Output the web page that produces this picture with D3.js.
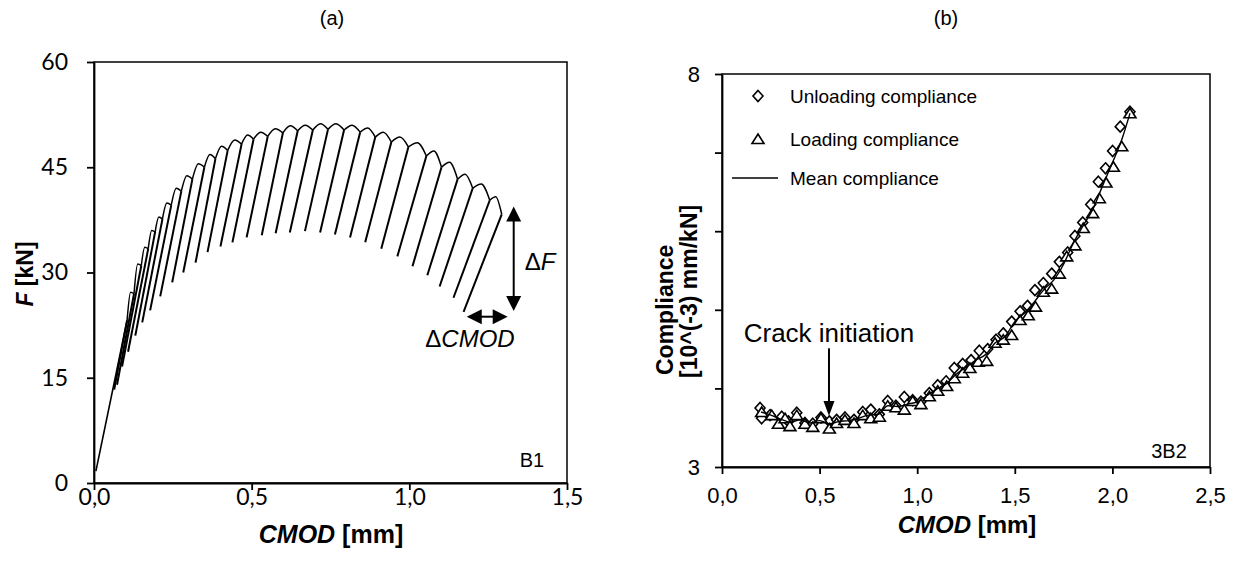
<!DOCTYPE html>
<html>
<head>
<meta charset="utf-8">
<script src="https://cdn.jsdelivr.net/npm/d3@7"></script>
<style>
  body { margin: 0; background: #fff; }
  svg { display: block; }
  text { fill: #000; }
</style>
</head>
<body>
<svg id="chart" width="1242" height="575"></svg>
<script>
// ---- panel (a): load / CMOD cycles, specimen B1 ----
const startCmod = 0.006, startF = 1.7;
// point where each unloading starts (on the envelope)
const topCmod = [0.105,0.127,0.150,0.172,0.194,0.217,0.245,0.277,0.312,0.350,0.385,0.424,0.468,0.506,0.551,
                 0.599,0.646,0.694,0.742,0.793,0.844,0.892,0.943,0.997,1.054,1.102,1.153,1.201,1.255,1.293];
const topF = [23.2,27.0,31.0,33.4,35.8,37.6,39.6,41.6,43.3,45.0,46.2,47.4,48.3,49.0,49.4,
              49.9,50.2,50.3,50.4,50.3,50.0,49.3,48.6,47.9,46.6,45.0,43.3,42.0,40.3,38.3];
// peak of the envelope between two unloadings
const archF = [27.2,31.2,33.6,36.0,37.9,39.9,42.0,43.8,45.5,46.8,48.0,48.9,49.6,50.0,50.5,
               50.9,51.0,51.2,51.2,51.0,50.6,50.0,49.3,48.5,47.3,45.7,44.0,42.6,40.8];
// lowest point of each unloading
const botCmod = [0.064,0.073,0.089,0.108,0.131,0.153,0.178,0.210,0.248,0.283,0.322,0.360,0.401,0.439,0.484,
                 0.532,0.576,0.621,0.669,0.717,0.764,0.812,0.860,0.911,0.962,1.010,1.057,1.096,1.140,1.172];
const botF = [13.3,14.0,16.6,18.7,21.0,22.9,24.6,26.6,28.6,30.0,31.4,32.9,33.7,34.3,35.0,
              35.3,35.6,35.7,35.9,35.7,35.4,35.0,34.3,33.4,32.3,30.9,29.6,28.0,26.4,24.4];
const xTicksA = [0, 0.5, 1.0, 1.5];
const yTicksA = [0, 15, 30, 45, 60];

// ---- panel (b): compliance, specimen 3B2 ----
const unloadCmod = [0.195,0.203,0.246,0.306,0.340,0.383,0.425,0.465,0.507,0.550,0.587,0.630,0.676,0.721,0.762,
                    0.806,0.849,0.891,0.934,0.977,1.019,1.062,1.105,1.148,1.190,1.233,1.276,1.318,1.361,1.404,
                    1.441,1.484,1.527,1.565,1.603,1.646,1.689,1.728,1.771,1.808,1.848,1.889,1.928,1.965,2.001,
                    2.040,2.090];
const unloadComp = [3.75,3.62,3.66,3.64,3.58,3.69,3.56,3.55,3.63,3.58,3.60,3.63,3.60,3.70,3.73,
                    3.67,3.84,3.78,3.89,3.85,3.83,3.94,4.04,4.09,4.26,4.31,4.36,4.48,4.50,4.62,
                    4.70,4.85,4.98,5.05,5.25,5.34,5.46,5.61,5.73,5.94,6.11,6.34,6.63,6.80,7.02,
                    7.33,7.52];
const loadCmod = [0.203,0.255,0.289,0.323,0.348,0.383,0.425,0.465,0.507,0.550,0.587,0.630,0.676,0.721,0.762,
                  0.806,0.849,0.891,0.934,0.977,1.019,1.062,1.105,1.151,1.190,1.233,1.270,1.313,1.356,1.399,
                  1.441,1.484,1.527,1.569,1.606,1.646,1.689,1.728,1.766,1.808,1.851,1.899,1.933,1.967,2.005,
                  2.048,2.090];
const loadComp = [3.70,3.66,3.55,3.62,3.52,3.66,3.55,3.51,3.62,3.49,3.56,3.60,3.56,3.66,3.62,
                  3.64,3.78,3.76,3.73,3.84,3.80,3.90,3.97,4.03,4.13,4.20,4.26,4.34,4.35,4.58,
                  4.62,4.68,4.87,4.93,5.04,5.23,5.27,5.46,5.68,5.82,6.04,6.23,6.42,6.62,6.82,
                  7.08,7.50];
const meanCmod = [0.20,0.25,0.30,0.35,0.40,0.45,0.50,0.55,0.60,0.65,0.70,0.75,0.80,0.85,0.90,0.95,1.00,
                  1.05,1.10,1.15,1.20,1.25,1.30,1.35,1.40,1.45,1.50,1.55,1.60,1.65,1.70,1.75,1.80,1.85,
                  1.90,1.95,2.00,2.05,2.09];
const meanComp = [3.70,3.66,3.61,3.57,3.60,3.56,3.59,3.55,3.58,3.59,3.62,3.66,3.67,3.78,3.77,3.80,3.83,
                  3.91,3.99,4.06,4.18,4.27,4.36,4.43,4.58,4.66,4.85,4.96,5.10,5.26,5.38,5.58,5.85,6.07,
                  6.28,6.58,6.87,7.18,7.50];
const xTicksB = [0, 0.5, 1.0, 1.5, 2.0, 2.5];
const yTicksB = [3, 4, 5, 6, 7, 8];
const yLabelsB = [3, 8];

const sans = "'Liberation Sans', Arial, sans-serif";
const comma = d3.format(".1f");
const fmtComma = v => comma(v).replace(".", ",");

const svg = d3.select("#chart");

function frame(g, x, y) {
    g.append("rect")
        .attr("x", x.range()[0]).attr("y", y.range()[1])
        .attr("width", x.range()[1] - x.range()[0])
        .attr("height", y.range()[0] - y.range()[1])
        .attr("fill", "none").attr("stroke", "#000").attr("stroke-width", 1.5);
}

// ================= panel (a) =================
const xA = d3.scaleLinear().domain([0, 1.5]).range([94, 567]);
const yA = d3.scaleLinear().domain([0, 60]).range([483, 62]);
const gA = svg.append("g");
frame(gA, xA, yA);

const axA = gA.append("g").attr("transform", `translate(0,${yA(0)})`)
    .call(d3.axisBottom(xA).tickValues(xTicksA).tickSizeInner(7).tickSizeOuter(0).tickFormat(fmtComma));
const ayA = gA.append("g").attr("transform", `translate(${xA(0)},0)`)
    .call(d3.axisLeft(yA).tickValues(yTicksA).tickSizeInner(7).tickSizeOuter(0));
[axA, ayA].forEach(a => {
    a.selectAll("path, line").attr("stroke", "#000").attr("stroke-width", 1.8);
    a.selectAll("text").attr("font-family", "Lato, 'Open Sans', sans-serif").attr("font-size", 23).attr("fill", "#000");
});
axA.selectAll("text").attr("dy", null).attr("y", 22);
ayA.selectAll("text").attr("x", -26);

// envelope arches + unloading lines
const line = d3.line().x(d => xA(d[0])).y(d => yA(d[1]));
const arch = d3.line().x(d => xA(d[0])).y(d => yA(d[1])).curve(d3.curveMonotoneX);

gA.append("path")
    .attr("d", line([[startCmod, startF], [topCmod[0], topF[0]]]))
    .attr("fill", "none").attr("stroke", "#000").attr("stroke-width", 1.6);

archF.forEach((f, i) => {
    const mid = (topCmod[i] + topCmod[i + 1]) / 2;
    gA.append("path")
        .attr("d", arch([[topCmod[i], topF[i]], [mid, f], [topCmod[i + 1], topF[i + 1]]]))
        .attr("fill", "none").attr("stroke", "#000").attr("stroke-width", 1.5);
});
topCmod.forEach((c, i) => {
    gA.append("path")
        .attr("d", line([[c, topF[i]], [botCmod[i], botF[i]]]))
        .attr("fill", "none").attr("stroke", "#000").attr("stroke-width", 2);
});

// delta F / delta CMOD arrows
const dF = { cmod: 1.331, f0: 24.5, f1: 39.4 };
const dC = { f: 23.7, c0: 1.182, c1: 1.312 };
function arrowHead(g, x, y, dir, len, half) {
    let pts;
    if (dir === "up") pts = [[x, y], [x - half, y + len], [x + half, y + len]];
    if (dir === "down") pts = [[x, y], [x - half, y - len], [x + half, y - len]];
    if (dir === "left") pts = [[x, y], [x + len, y - half], [x + len, y + half]];
    if (dir === "right") pts = [[x, y], [x - len, y - half], [x - len, y + half]];
    g.append("polygon").attr("points", pts.map(p => p.join(",")).join(" ")).attr("fill", "#000");
}
gA.append("line")
    .attr("x1", xA(dF.cmod)).attr("x2", xA(dF.cmod))
    .attr("y1", yA(dF.f1) + 8).attr("y2", yA(dF.f0) - 8)
    .attr("stroke", "#000").attr("stroke-width", 2);
arrowHead(gA, xA(dF.cmod), yA(dF.f1), "up", 15, 7.5);
arrowHead(gA, xA(dF.cmod), yA(dF.f0), "down", 15, 7.5);
gA.append("line")
    .attr("x1", xA(dC.c0) + 8).attr("x2", xA(dC.c1) - 8)
    .attr("y1", yA(dC.f)).attr("y2", yA(dC.f))
    .attr("stroke", "#000").attr("stroke-width", 2);
arrowHead(gA, xA(dC.c0), yA(dC.f), "left", 15, 7.5);
arrowHead(gA, xA(dC.c1), yA(dC.f), "right", 15, 7.5);

const tF = gA.append("text").attr("x", xA(dF.cmod) + 11).attr("y", 270)
    .attr("font-family", sans).attr("font-size", 24);
tF.append("tspan").text("\u0394");
tF.append("tspan").attr("font-style", "italic").text("F");
const tC = gA.append("text").attr("x", 470).attr("y", 347).attr("text-anchor", "middle")
    .attr("font-family", sans).attr("font-size", 24);
tC.append("tspan").text("\u0394");
tC.append("tspan").attr("font-style", "italic").text("CMOD");

gA.append("text").attr("x", 532).attr("y", 467).attr("text-anchor", "middle")
    .attr("font-family", sans).attr("font-size", 20).text("B1");

// axis titles (a)
const tx = gA.append("text").attr("x", 331).attr("y", 543).attr("text-anchor", "middle")
    .attr("font-family", sans).attr("font-size", 25).attr("font-weight", "bold");
tx.append("tspan").attr("font-style", "italic").text("CMOD");
tx.append("tspan").text(" [mm]");
const ty = gA.append("text").attr("transform", "translate(33,274) rotate(-90)").attr("text-anchor", "middle")
    .attr("font-family", sans).attr("font-size", 23).attr("font-weight", "bold");
ty.append("tspan").attr("font-style", "italic").text("F");
ty.append("tspan").text(" [kN]");

svg.append("text").attr("x", 332).attr("y", 25).attr("text-anchor", "middle")
    .attr("font-family", sans).attr("font-size", 20).text("(a)");

// ================= panel (b) =================
const xB = d3.scaleLinear().domain([0, 2.5]).range([722, 1210]);
const yB = d3.scaleLinear().domain([3, 8]).range([467, 74]);
const gB = svg.append("g");
frame(gB, xB, yB);

const axB = gB.append("g").attr("transform", `translate(0,${yB(3)})`)
    .call(d3.axisBottom(xB).tickValues(xTicksB).tickSizeInner(7).tickSizeOuter(0).tickFormat(fmtComma));
const ayB = gB.append("g").attr("transform", `translate(${xB(0)},0)`)
    .call(d3.axisLeft(yB).tickValues(yTicksB).tickSizeInner(7).tickSizeOuter(0)
        .tickFormat(v => yLabelsB.includes(v) ? v : ""));
[axB, ayB].forEach(a => {
    a.selectAll("path, line").attr("stroke", "#000").attr("stroke-width", 1.8);
    a.selectAll("text").attr("font-family", sans).attr("font-size", 22).attr("fill", "#000");
});
axB.selectAll("text").attr("dy", null).attr("y", 36);
ayB.selectAll("text").attr("x", -22);

const diamond = (x, y) => `M${x},${y - 5.5}L${x + 5},${y}L${x},${y + 5.5}L${x - 5},${y}Z`;
const triangle = (x, y) => `M${x},${y - 5}L${x + 6},${y + 4.5}L${x - 6},${y + 4.5}Z`;

gB.append("g").selectAll("path").data(unloadCmod).join("path")
    .attr("d", (c, i) => diamond(xB(c), yB(unloadComp[i])))
    .attr("fill", "#fff").attr("stroke", "#000").attr("stroke-width", 1.6);
gB.append("g").selectAll("path").data(loadCmod).join("path")
    .attr("d", (c, i) => triangle(xB(c), yB(loadComp[i])))
    .attr("fill", "#fff").attr("stroke", "#000").attr("stroke-width", 1.6);
gB.append("path")
    .attr("d", d3.line().x(d => xB(d[0])).y(d => yB(d[1])).curve(d3.curveMonotoneX)(meanCmod.map((c, i) => [c, meanComp[i]])))
    .attr("fill", "none").attr("stroke", "#000").attr("stroke-width", 1.4);

// legend
const legend = gB.append("g").attr("font-family", sans).attr("font-size", 19);
legend.append("path").attr("d", diamond(758, 96)).attr("fill", "#fff").attr("stroke", "#000").attr("stroke-width", 1.6);
legend.append("text").attr("x", 790).attr("y", 103).text("Unloading compliance");
legend.append("path").attr("d", triangle(758, 139)).attr("fill", "#fff").attr("stroke", "#000").attr("stroke-width", 1.6);
legend.append("text").attr("x", 790).attr("y", 146).text("Loading compliance");
legend.append("line").attr("x1", 732).attr("x2", 778).attr("y1", 178).attr("y2", 178)
    .attr("stroke", "#000").attr("stroke-width", 1.4);
legend.append("text").attr("x", 790).attr("y", 185).text("Mean compliance");

// crack initiation
const crack = { cmod: 0.548, top: 4.51, tip: 3.65 };
gB.append("line").attr("x1", xB(crack.cmod)).attr("x2", xB(crack.cmod))
    .attr("y1", yB(crack.top)).attr("y2", yB(crack.tip) - 10)
    .attr("stroke", "#000").attr("stroke-width", 2);
gB.append("polygon")
    .attr("points", [[xB(crack.cmod), yB(crack.tip)], [xB(crack.cmod) - 5.5, yB(crack.tip) - 15], [xB(crack.cmod) + 5.5, yB(crack.tip) - 15]]
        .map(p => p.join(",")).join(" "))
    .attr("fill", "#000");
gB.append("text").attr("x", xB(crack.cmod)).attr("y", 342).attr("text-anchor", "middle")
    .attr("font-family", sans).attr("font-size", 26).text("Crack initiation");

gB.append("text").attr("x", 1169).attr("y", 458).attr("text-anchor", "middle")
    .attr("font-family", sans).attr("font-size", 20).text("3B2");

// axis titles (b)
const tx2 = gB.append("text").attr("x", 967).attr("y", 533).attr("text-anchor", "middle")
    .attr("font-family", sans).attr("font-size", 24).attr("font-weight", "bold");
tx2.append("tspan").attr("font-style", "italic").text("CMOD");
tx2.append("tspan").text(" [mm]");
gB.append("text").attr("transform", "translate(673,375) rotate(-90)")
    .attr("font-family", sans).attr("font-size", 23).attr("font-weight", "bold").text("Compliance");
gB.append("text").attr("transform", "translate(697,378) rotate(-90)")
    .attr("font-family", sans).attr("font-size", 23).attr("font-weight", "bold").text("[10^(-3) mm/kN]");

svg.append("text").attr("x", 946).attr("y", 25).attr("text-anchor", "middle")
    .attr("font-family", sans).attr("font-size", 20).text("(b)");
</script>
</body>
</html>
